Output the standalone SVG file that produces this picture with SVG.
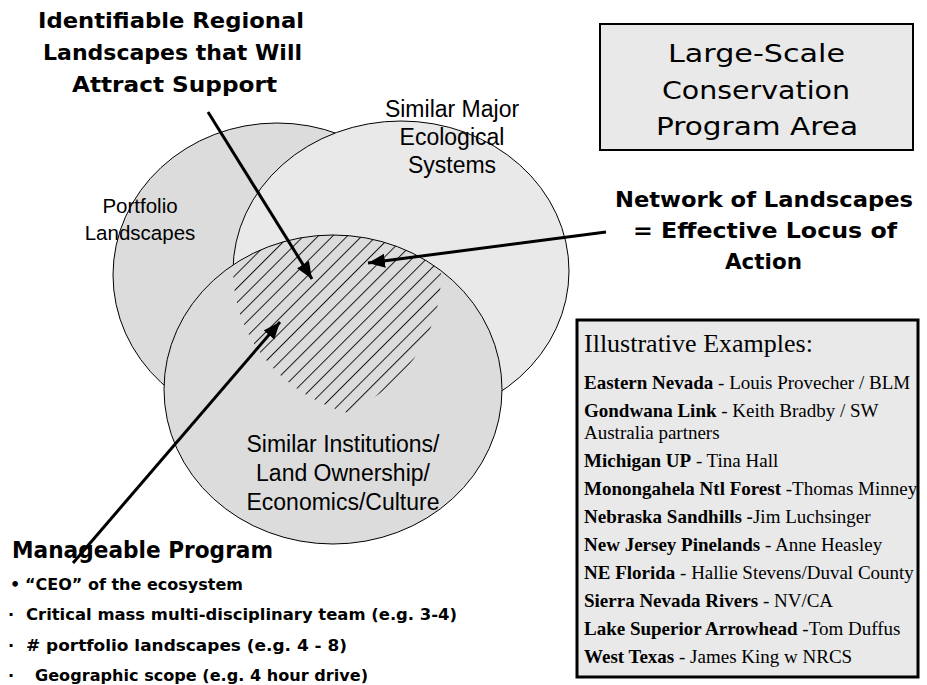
<svg xmlns="http://www.w3.org/2000/svg" width="927" height="685" viewBox="0 0 927 685">
<style>
.comic{font-family:"Comic Sans MS","DejaVu Sans",sans-serif;fill:#000}
.b{font-weight:bold}
.arial{font-family:"Liberation Sans",Arial,sans-serif;font-size:23px;fill:#000;text-anchor:middle}
.tnr{font-family:"Liberation Serif","Times New Roman",serif;fill:#000;font-size:19px}
.circ{stroke:#000;stroke-width:1}
.arrow{stroke:#000;stroke-width:3;fill:none;marker-end:url(#ah)}
</style>
<defs>
<marker id="ah" markerUnits="userSpaceOnUse" markerWidth="20" markerHeight="16" refX="17" refY="7" orient="auto">
<path d="M0,0 L17,7 L0,14 Z" fill="#000"/>
</marker>
<pattern id="hatch" patternUnits="userSpaceOnUse" width="20" height="10.3" patternTransform="rotate(-45)">
<line x1="0" y1="0.5" x2="20" y2="0.5" stroke="#000" stroke-width="0.9"/>
</pattern>
<clipPath id="cA"><ellipse cx="277" cy="275" rx="164" ry="152"/></clipPath>
<clipPath id="cB"><ellipse cx="401" cy="271" rx="168" ry="150"/></clipPath>
<clipPath id="cC"><ellipse cx="333" cy="389.5" rx="169" ry="154.5"/></clipPath>
</defs>
<rect width="927" height="685" fill="#fff"/>

<g id="portfolio">
<ellipse class="circ" cx="277" cy="275" rx="164" ry="152" fill="#dcdcdc"/>
</g>
<g id="ecological">
<ellipse class="circ" cx="401" cy="271" rx="168" ry="150" fill="#e9e9e9"/>
</g>
<g id="institutions">
<ellipse class="circ" cx="333" cy="389.5" rx="169" ry="154.5" fill="#dcdcdc"/>
</g>
<g id="intersection">
<g clip-path="url(#cA)"><g clip-path="url(#cB)"><rect x="150" y="220" width="320" height="220" fill="url(#hatch)" clip-path="url(#cC)"/></g></g>
</g>

<g id="labels-circles">
<text class="arial" x="140" y="213" style="font-size:20.5px">Portfolio</text>
<text class="arial" x="140" y="240" style="font-size:20.5px">Landscapes</text>
<text class="arial" x="452" y="117">Similar Major</text>
<text class="arial" x="452" y="145">Ecological</text>
<text class="arial" x="452" y="173">Systems</text>
<text class="arial" x="343" y="452">Similar Institutions/</text>
<text class="arial" x="343" y="481">Land Ownership/</text>
<text class="arial" x="343" y="510">Economics/Culture</text>
</g>

<g id="title-identifiable">
<text class="comic b" font-size="22" x="38" y="28" textLength="266" lengthAdjust="spacingAndGlyphs">Identifiable Regional</text>
<text class="comic b" font-size="22" x="43" y="60" textLength="259" lengthAdjust="spacingAndGlyphs">Landscapes that Will</text>
<text class="comic b" font-size="22" x="72" y="92" textLength="205" lengthAdjust="spacingAndGlyphs">Attract Support</text>
</g>

<g id="program-area">
<rect x="600" y="24" width="313" height="126" fill="#e9e9e9" stroke="#000" stroke-width="2"/>
<text class="comic" font-size="25" x="668" y="62" textLength="177" lengthAdjust="spacingAndGlyphs">Large-Scale</text>
<text class="comic" font-size="25" x="662" y="99" textLength="188" lengthAdjust="spacingAndGlyphs">Conservation</text>
<text class="comic" font-size="25" x="656" y="135" textLength="202" lengthAdjust="spacingAndGlyphs">Program Area</text>
</g>

<g id="network">
<text class="comic b" font-size="22" x="615" y="207" textLength="298" lengthAdjust="spacingAndGlyphs">Network of Landscapes</text>
<text class="comic b" font-size="22" x="633" y="238" textLength="264" lengthAdjust="spacingAndGlyphs">= Effective Locus of</text>
<text class="comic b" font-size="22" x="725" y="269" textLength="77" lengthAdjust="spacingAndGlyphs">Action</text>
</g>

<g id="manageable">
<text class="comic b" font-size="23" x="12" y="558" textLength="261" lengthAdjust="spacingAndGlyphs">Manageable Program</text>
<text class="comic b" font-size="16" x="10" y="590">•</text>
<text class="comic b" font-size="16" x="25" y="590" textLength="218" lengthAdjust="spacingAndGlyphs">“CEO” of the ecosystem</text>
<text class="comic b" font-size="16" x="8" y="620">·</text>
<text class="comic b" font-size="16" x="26" y="620" textLength="431" lengthAdjust="spacingAndGlyphs">Critical mass multi-disciplinary team (e.g. 3-4)</text>
<text class="comic b" font-size="16" x="8" y="651">·</text>
<text class="comic b" font-size="16" x="26" y="651" textLength="321" lengthAdjust="spacingAndGlyphs"># portfolio landscapes (e.g. 4 - 8)</text>
<text class="comic b" font-size="16" x="8" y="681">·</text>
<text class="comic b" font-size="16" x="35" y="681" textLength="333" lengthAdjust="spacingAndGlyphs">Geographic scope (e.g. 4 hour drive)</text>
</g>

<g id="examples">
<rect x="577" y="320" width="341" height="357" fill="#e9e9e9" stroke="#000" stroke-width="3"/>
<text class="tnr" x="584" y="352" style="font-size:26px">Illustrative Examples:</text>
<text class="tnr" x="584" y="389"><tspan font-weight="bold">Eastern Nevada</tspan> - Louis Provecher / BLM</text>
<text class="tnr" x="584" y="417"><tspan font-weight="bold">Gondwana Link</tspan> - Keith Bradby / SW</text>
<text class="tnr" x="584" y="439">Australia partners</text>
<text class="tnr" x="584" y="467"><tspan font-weight="bold">Michigan UP</tspan> - Tina Hall</text>
<text class="tnr" x="584" y="495"><tspan font-weight="bold">Monongahela Ntl Forest</tspan> -Thomas Minney</text>
<text class="tnr" x="584" y="523"><tspan font-weight="bold">Nebraska Sandhills -</tspan>Jim Luchsinger</text>
<text class="tnr" x="584" y="551"><tspan font-weight="bold">New Jersey Pinelands</tspan> - Anne Heasley</text>
<text class="tnr" x="584" y="579"><tspan font-weight="bold">NE Florida</tspan> - Hallie Stevens/Duval County</text>
<text class="tnr" x="584" y="607"><tspan font-weight="bold">Sierra Nevada Rivers</tspan> - NV/CA</text>
<text class="tnr" x="584" y="635"><tspan font-weight="bold">Lake Superior Arrowhead</tspan> -Tom Duffus</text>
<text class="tnr" x="584" y="663"><tspan font-weight="bold">West Texas</tspan> - James King w NRCS</text>
</g>

<g id="connectors">
<line class="arrow" x1="208" y1="112" x2="312" y2="279"/>
<line class="arrow" x1="606" y1="232" x2="368" y2="263"/>
<line class="arrow" x1="73" y1="563" x2="280" y2="322"/>
</g>
</svg>
